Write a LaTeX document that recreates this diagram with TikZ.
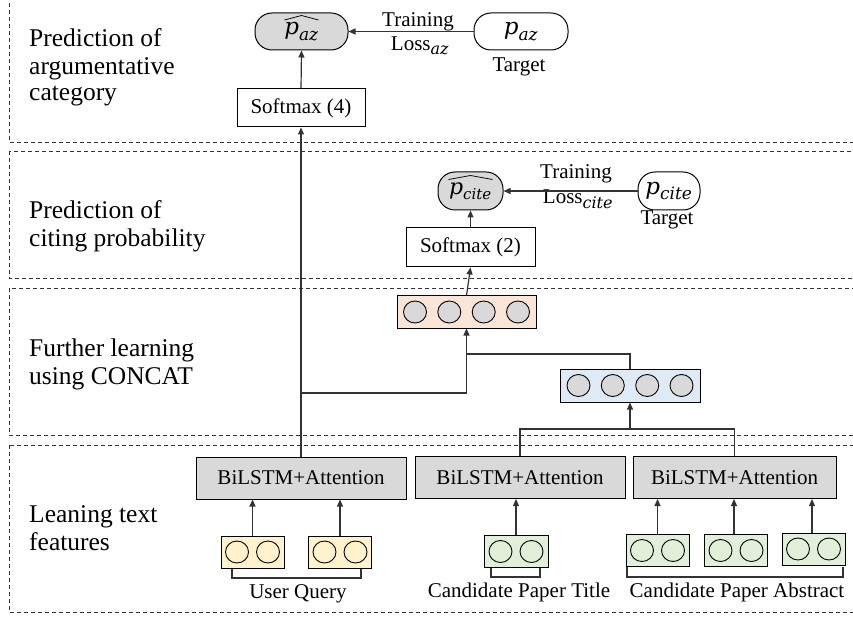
\RequirePackage{fix-cm}
\documentclass[tikz,border=0pt]{standalone}
\usepackage{fontspec}
\setmainfont{Liberation Serif}
\newfontfamily\mathlike{DejaVu Serif}[ItalicFont={DejaVu Serif Italic}]
\newcommand{\mitx}[2]{\mbox{\mathlike\itshape\fontsize{#1}{#1}\selectfont #2}}
\usetikzlibrary{arrows.meta,calc}
\definecolor{boxgray}{HTML}{D9D9D9}
\definecolor{peach}{HTML}{FBE5D6}
\definecolor{lblue}{HTML}{DEEBF7}
\definecolor{lyellow}{HTML}{FFF2CC}
\definecolor{lgreen}{HTML}{E2F0D9}
\definecolor{linec}{HTML}{333333}
\begin{document}
\begin{tikzpicture}[x=1pt,y=-1pt,
  panel/.style={draw=linec, line width=0.9pt, dash pattern=on 4pt off 3pt},
  plabel/.style={anchor=base west, inner sep=0pt, font=\fontsize{25.5}{27}\selectfont},
  txt/.style={anchor=base, inner sep=0pt, font=\fontsize{21}{24}\selectfont},
  pillnode/.style={draw=black, line width=1pt, rounded corners=17pt, inner sep=0pt, font=\fontsize{24}{26}\selectfont},
  sbox/.style={draw=black, line width=1pt, fill=white, inner sep=0pt, minimum width=128pt, minimum height=38pt, font=\fontsize{21}{24}\selectfont},
  lstmbox/.style={draw=black, line width=1pt, fill=boxgray, inner sep=0pt, minimum height=42pt, font=\fontsize{21}{24}\selectfont},
  vec4/.style={draw=black, line width=1pt, inner sep=0pt, minimum width=139pt, minimum height=32pt},
  vec2/.style={draw=black, line width=1pt, inner sep=0pt, minimum width=63pt, minimum height=32pt},
  conn/.style={draw=linec, line width=1.2pt},
  arr/.style={conn, -{Triangle[length=7pt,width=6pt]}},
  bigcirc/.style={draw=black, line width=0.9pt, fill=boxgray},
  smallcirc/.style={draw=black, line width=0.9pt},
  hatline/.style={draw=black, line width=0.75pt, line join=round}
]
\useasboundingbox (0,0) rectangle (853,617);
\clip (0,0) rectangle (853,617);

% panels
\draw[panel] (9,-4) rectangle (870,142);
\draw[panel] (9,151) rectangle (870,278);
\draw[panel] (9,288) rectangle (870,435);
\draw[panel] (9,445) rectangle (870,612);

% panel labels
\node[plabel] (l1a) at (29,47) {Prediction of};
\node[plabel] (l1b) at (29,75) {argumentative};
\node[plabel] (l1c) at (29,101) {category};
\node[plabel] (l2a) at (29,219) {Prediction of};
\node[plabel] (l2b) at (29,247) {citing probability};
\node[plabel] (l3a) at (29,356) {Further learning};
\node[plabel] (l3b) at (29,384) {using CONCAT};
\node[plabel] (l4a) at (29,522) {Leaning text};
\node[plabel] (l4b) at (29,550) {features};

% panel 1
\node[pillnode, fill=boxgray, minimum width=93pt, minimum height=37pt] (paz) at (301.5,31.5) {$\mitx{23}{p}_{\mitx{17}{az}}$};
\draw[hatline] ($(paz.center)+(-17,-11.5)$) -- ($(paz.center)+(0,-16)$) -- ($(paz.center)+(17,-11.5)$);
\node[pillnode, fill=white, minimum width=94pt, minimum height=37pt] (tpaz) at (521,31.5) {$\mitx{23}{p}_{\mitx{17}{az}}$};
\node[txt] (tr1) at (418,27) {Training};
\node[txt] (lo1) at (420,51) {Loss$_{\mitx{16}{az}}$};
\node[txt] (ta1) at (519,72) {Target};
\node[sbox] (sm4) at (301,108) {Softmax (4)};

% panel 2
\node[pillnode, fill=boxgray, minimum width=65pt, minimum height=38pt] (pc) at (470.5,191) {$\mitx{22}{p}_{\mitx{15}{cite}}$};
\draw[hatline] ($(pc.center)+(-22,-11.5)$) -- ($(pc.center)+(0,-15.5)$) -- ($(pc.center)+(22,-11.5)$);
\node[pillnode, fill=white, minimum width=62pt, minimum height=38pt] (tpc) at (669,191) {$\mitx{23}{p}_{\mitx{17}{cite}}$};
\node[txt] (tr2) at (576,179) {Training};
\node[txt] (lo2) at (578,204) {Loss$_{\mitx{16}{cite}}$};
\node[txt] (ta2) at (667,225) {Target};
\node[sbox, minimum width=129pt, minimum height=39pt] (sm2) at (470.5,247.5) {Softmax (2)};

% panel 3 vectors
\node[vec4, fill=peach] (org) at (466.5,312) {};
\node[vec4, fill=lblue, minimum width=140pt, minimum height=33pt] (blu) at (630,385.5) {};
\foreach \dx in {-51.5,-17.2,17.2,51.5}{
  \draw[bigcirc] ($(org.center)+(\dx,0)$) ellipse [x radius=11.5pt, y radius=11pt];
  \draw[bigcirc] ($(blu.center)+(\dx,0)$) ellipse [x radius=11.5pt, y radius=11pt];
}

% panel 4
\node[lstmbox, minimum width=210pt] (bl1) at (301,478) {BiLSTM+Attention};
\node[lstmbox, minimum width=210pt] (bl2) at (520,477.5) {BiLSTM+Attention};
\node[lstmbox, minimum width=203pt] (bl3) at (734.5,477.5) {BiLSTM+Attention};

\node[vec2, fill=lyellow] (y1) at (252.5,552) {};
\node[vec2, fill=lyellow] (y2) at (340,552) {};
\node[vec2, fill=lgreen, minimum width=64pt] (g0) at (516,551.5) {};
\node[vec2, fill=lgreen] (g1) at (657.5,550.5) {};
\node[vec2, fill=lgreen] (g2) at (736,550.5) {};
\node[vec2, fill=lgreen] (g3) at (813.5,549) {};
\foreach \b in {y1,y2,g0,g1,g2,g3}{
  \draw[smallcirc] ($(\b.center)+(-15.5,0)$) ellipse [x radius=11.5pt, y radius=11pt];
  \draw[smallcirc] ($(\b.center)+(15.5,0)$) ellipse [x radius=11.5pt, y radius=11pt];
}

% brackets
\draw[conn] (232,569) -- (232,578) -- (361,578) -- (361,569);
\draw[conn] (491,568) -- (491,577) -- (540,577) -- (540,568);
\draw[conn] (627,567) -- (627,577) -- (843,577) -- (843,567);
\node[txt] (uq) at (298,598) {User Query};
\node[txt] (cpt) at (519,597) {Candidate Paper Title};
\node[txt] (cpa) at (737,597) {Candidate Paper Abstract};

% connectors
\draw[arr] (sm4.north) -- (paz.south);
\draw[arr] (tpaz.west) -- (paz.east);
\draw[arr] (sm2.north) -- (pc.south);
\draw[arr] (tpc.west) -- (pc.east);
\draw[arr] (org.north) -- (sm2.south);
\draw[arr] (bl1.north) -- (sm4.south);

\coordinate (j1) at (301,393);
\coordinate (j2) at (466.5,354);
\coordinate (j3) at (630,429);
\draw[arr] (j1) -| (org.south);
\draw[conn] (blu.north) |- (j2);
\draw[conn] (bl2.north) |- (j3) -| (bl3.north);
\draw[arr] (j3) -- (blu.south);

\draw[arr] (y1.north) -- (y1.north |- bl1.south);
\draw[arr] (y2.north) -- (y2.north |- bl1.south);
\draw[arr] (g0.north) -- (g0.north |- bl2.south);
\draw[arr] (g1.north) -- (g1.north |- bl3.south);
\draw[arr] ([xshift=-2pt]g2.north) -- ([xshift=-2pt]g2.north |- bl3.south);
\draw[arr] ([xshift=-1.5pt]g3.north) -- ([xshift=-1.5pt]g3.north |- bl3.south);
\end{tikzpicture}
\end{document}
